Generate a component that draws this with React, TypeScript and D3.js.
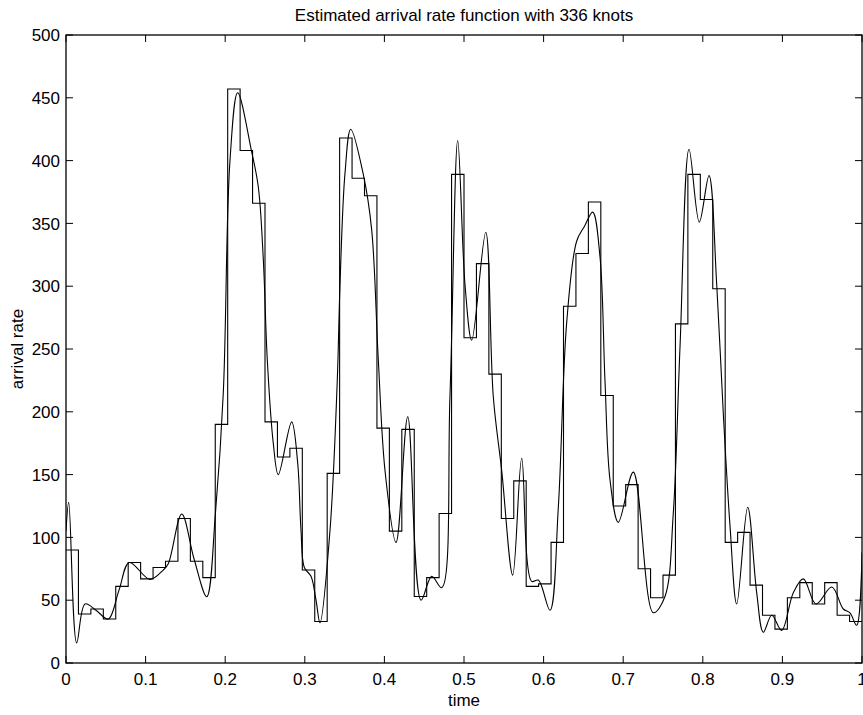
import React from "react";
import * as d3 from "d3";

const TITLE = "Estimated arrival rate function with 336 knots";
const X_LABEL = "time";
const Y_LABEL = "arrival rate";

const X_TICKS = [0, 0.1, 0.2, 0.3, 0.4, 0.5, 0.6, 0.7, 0.8, 0.9, 1];
const X_TICK_LABELS = ["0", "0.1", "0.2", "0.3", "0.4", "0.5", "0.6", "0.7", "0.8", "0.9", "1"];
const Y_TICKS = [0, 50, 100, 150, 200, 250, 300, 350, 400, 450, 500];

// Piecewise-constant (histogram) estimate, 64 equal bins on [0, 1]
const STEP_VALUES = [
  90, 39, 43, 35, 61, 80, 67, 76, 81, 115, 81, 68, 190, 457, 408, 366,
  192, 164, 171, 74, 33, 151, 418, 386, 372, 187, 105, 186, 53, 68, 119, 389,
  259, 318, 230, 115, 145, 61, 63, 96, 284, 326, 367, 213, 125, 142, 75, 52,
  70, 270, 389, 369, 298, 96, 104, 62, 38, 27, 52, 64, 47, 64, 38, 33,
];

// Smooth spline estimate, sampled points (time, rate)
const CURVE_T = [
  0, 0.0034, 0.0134, 0.0239, 0.0377, 0.0531, 0.0666, 0.0795, 0.1055, 0.1222,
  0.1285, 0.1454, 0.1608, 0.1768, 0.1878, 0.1976, 0.206, 0.2157, 0.2329, 0.2416,
  0.2479, 0.2529, 0.2604, 0.2667, 0.2835, 0.2911, 0.2952, 0.2994, 0.3078, 0.3141,
  0.3191, 0.3317, 0.3408, 0.3442, 0.3505, 0.3577, 0.3735, 0.384, 0.3923, 0.4008,
  0.4146, 0.4293, 0.446, 0.4594, 0.472, 0.4824, 0.4921, 0.5013, 0.5097, 0.5273,
  0.5368, 0.5474, 0.5612, 0.5725, 0.585, 0.5934, 0.608, 0.6185, 0.629, 0.6416,
  0.6516, 0.6617, 0.6709, 0.6771, 0.6834, 0.6939, 0.7127, 0.7378, 0.7525, 0.7629,
  0.7714, 0.7827, 0.7956, 0.8078, 0.8175, 0.8258, 0.8342, 0.8426, 0.8564, 0.8677,
  0.876, 0.8866, 0.8991, 0.9137, 0.9263, 0.9422, 0.962, 0.9765, 0.9849, 0.9933, 1,
];
const CURVE_V = [
  105, 128, 16, 47, 42, 35, 58, 80, 66.6, 74,
  79, 118.6, 83, 52.8, 120, 215, 400, 454, 408, 379,
  321, 241, 175, 150, 192, 159, 106, 76, 69, 50,
  32, 106, 225, 301, 390, 425, 389, 345, 242, 153,
  96, 196, 50, 69, 60, 213, 416, 301, 257, 343,
  212, 153, 70, 163, 65, 66, 42, 124, 271, 336,
  348, 359, 323, 225, 146, 112, 152, 40, 53, 119,
  252, 409, 351, 388, 301, 198, 109, 47, 124, 56,
  24.5, 38, 26, 56, 67, 47, 60.5, 43, 40, 30, 88,
];

const WIDTH = 863;
const HEIGHT = 715;
const M = { left: 66, right: 1, top: 35, bottom: 52 };
const FONT = "'Liberation Sans', Arial, Helvetica, sans-serif";
const FS = 17;

export default function App() {
  const x = d3.scaleLinear().domain([0, 1]).range([M.left, WIDTH - M.right]);
  const y = d3.scaleLinear().domain([0, 500]).range([HEIGHT - M.bottom, M.top]);
  const x0 = x(0), x1 = x(1), y0 = y(0), y1 = y(500);

  const nBins = STEP_VALUES.length;
  const stepPts: [number, number][] = STEP_VALUES.map((v, i) => [i / nBins, v]);
  stepPts.push([1, STEP_VALUES[nBins - 1]]);
  const stepLine = d3
    .line<[number, number]>()
    .x((d) => x(d[0]))
    .y((d) => y(d[1]))
    .curve(d3.curveStepAfter);

  const curvePts: [number, number][] = CURVE_T.map((t, i) => [t, CURVE_V[i]]);
  const smoothLine = d3
    .line<[number, number]>()
    .x((d) => x(d[0]))
    .y((d) => y(d[1]))
    .curve(d3.curveCatmullRom.alpha(0.5));

  const TL = 7;

  return (
    <svg
      width={WIDTH}
      height={HEIGHT}
      style={{ position: "absolute", left: 0, top: 0, background: "#fff" }}
      fontFamily={FONT}
    >
      <rect x={0} y={0} width={WIDTH} height={HEIGHT} fill="#fff" />
      <defs>
        <clipPath id="plotclip">
          <rect x={x0} y={y1} width={x1 - x0} height={y0 - y1} />
        </clipPath>
      </defs>
      <g clipPath="url(#plotclip)" fill="none" stroke="#000" strokeWidth={1.1}>
        <path d={stepLine(stepPts) || ""} />
        <path d={smoothLine(curvePts) || ""} />
      </g>
      {/* ticks */}
      <g stroke="#000" strokeWidth={1}>
        {X_TICKS.map((t) => (
          <g key={"xt" + t}>
            <line x1={x(t)} x2={x(t)} y1={y0} y2={y0 - TL} />
            <line x1={x(t)} x2={x(t)} y1={y1} y2={y1 + TL} />
          </g>
        ))}
        {Y_TICKS.map((v) => (
          <g key={"yt" + v}>
            <line x1={x0} x2={x0 + TL} y1={y(v)} y2={y(v)} />
            <line x1={x1} x2={x1 - TL} y1={y(v)} y2={y(v)} />
          </g>
        ))}
      </g>
      <rect
        x={x0}
        y={y1}
        width={x1 - x0}
        height={y0 - y1}
        fill="none"
        stroke="#000"
        strokeWidth={1.3}
      />
      {/* tick labels */}
      <g fontSize={FS} fill="#000">
        {X_TICKS.map((t, i) => (
          <text key={"xl" + t} x={x(t)} y={y0 + 22} textAnchor="middle">
            {X_TICK_LABELS[i]}
          </text>
        ))}
        {Y_TICKS.map((v) => (
          <text key={"yl" + v} x={x0 - 6} y={y(v)} dy="0.36em" textAnchor="end">
            {v}
          </text>
        ))}
      </g>
      <text x={(x0 + x1) / 2} y={21} textAnchor="middle" fontSize={FS}>
        {TITLE}
      </text>
      <text x={(x0 + x1) / 2} y={706} textAnchor="middle" fontSize={FS}>
        {X_LABEL}
      </text>
      <text
        transform={`translate(23,${(y0 + y1) / 2}) rotate(-90)`}
        textAnchor="middle"
        fontSize={FS}
      >
        {Y_LABEL}
      </text>
    </svg>
  );
}
